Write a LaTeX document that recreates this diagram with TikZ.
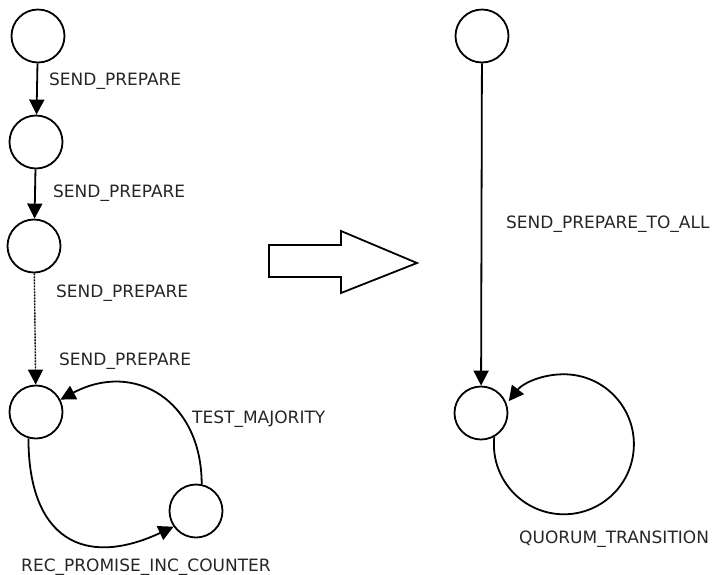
\documentclass[tikz,border=0pt]{standalone}
\usepackage{fontspec}
\setmainfont{DejaVu Sans}
\usetikzlibrary{arrows.meta}

\begin{document}
\begin{tikzpicture}[x=1pt,y=1pt,
	state/.style={draw, circle, line width=1.8pt, minimum size=53pt, inner sep=0pt},
	lbl/.style={anchor=base west, inner sep=0pt, text=black!85, font=\fontsize{17}{19}\selectfont},
	trans/.style={line width=1.8pt, -{Triangle[width=15pt,length=15pt]}}]
		\useasboundingbox (0,0) rectangle (713,-574);

		% left machine
		\node [state] (0) at (38,-36) {};
		\node [state] (1) at (36,-142) {};
		\node [state] (2) at (34,-246) {};
		\node [state] (3) at (36,-412) {};
		\node [state] (4) at (196,-511) {};

		% right machine
		\node [state] (5) at (482,-36) {};
		\node [state] (6) at (481,-413) {};

		\draw [trans] (0) to (1);
		\draw [trans] (1) to (2);
		\draw [trans, line width=1.4pt, dash pattern=on 2pt off 1pt] (2) to (3);
		\draw [trans] (3.254) to [out=270, in=205, looseness=1.5] (4.215);
		\draw [trans] (4.78) to [out=90, in=28, looseness=1.3] (3.27);

		\draw [trans] (5) to (6);
		\draw [trans] (6.299) arc [start angle=174, end angle=502, radius=70];

		\node [lbl] (l0) at (49,-85) {SEND\_PREPARE};
		\node [lbl] (l1) at (53,-197) {SEND\_PREPARE};
		\node [lbl] (l2) at (56,-297) {SEND\_PREPARE};
		\node [lbl] (l3) at (59,-365) {SEND\_PREPARE};
		\node [lbl] (l4) at (192,-423) {TEST\_MAJORITY};
		\node [lbl] (l5) at (21,-571) {REC\_PROMISE\_INC\_COUNTER};
		\node [lbl] (l6) at (506,-228) {SEND\_PREPARE\_TO\_ALL};
		\node [lbl] (l7) at (519,-543) {QUORUM\_TRANSITION};

		% the big arrow between the two
		\draw [line width=1.8pt, line join=miter] (269,-245) -- (341,-245) -- (341,-231) -- (417,-263)
			-- (341,-293) -- (341,-277) -- (269,-277) -- cycle;
\end{tikzpicture}
\end{document}
